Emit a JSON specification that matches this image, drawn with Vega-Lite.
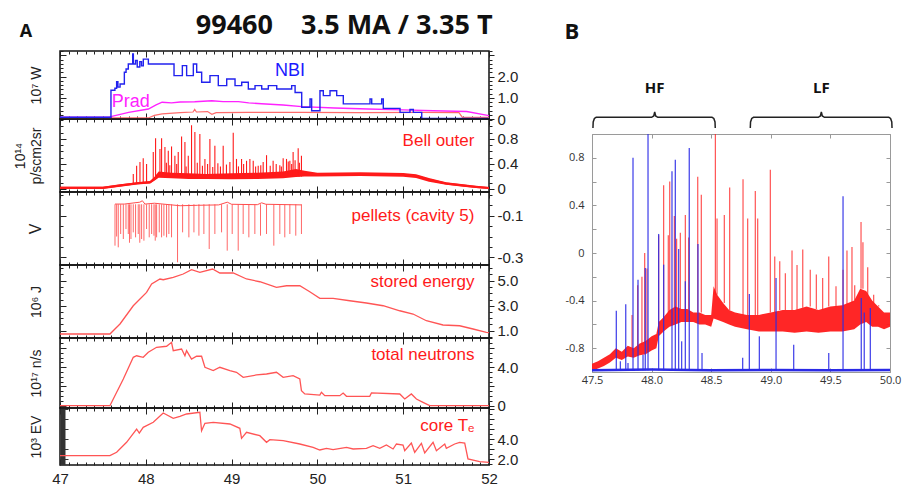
{
 "$schema": "https://vega.github.io/schema/vega-lite/v6.json",
 "background": "white",
 "padding": {"left": 12, "top": 12, "right": 4, "bottom": 2},
 "config": {"font": "Liberation Sans", "view": {"stroke": "#111", "strokeWidth": 1.5}, "axis": {"labelOverlap": false, "labelFlush": false, "labelBound": false, "domain": false, "grid": false}},
 "datasets": {
  "nbi": [{"t":47.0,"v":0.08},{"t":47.594,"v":1.35},{"t":47.64,"v":1.45},{"t":47.66,"v":1.75},{"t":47.675,"v":1.5},{"t":47.70,"v":1.65},{"t":47.75,"v":2.2},{"t":47.77,"v":2.35},{"t":47.796,"v":2.59},{"t":47.847,"v":3.06},{"t":47.855,"v":2.59},{"t":47.88,"v":2.75},{"t":47.90,"v":2.45},{"t":47.93,"v":2.7},{"t":47.95,"v":2.5},{"t":47.971,"v":2.82},{"t":48.03,"v":2.59},{"t":48.329,"v":2.04},{"t":48.426,"v":2.51},{"t":48.476,"v":2.04},{"t":48.554,"v":2.59},{"t":48.593,"v":2.2},{"t":48.651,"v":1.73},{"t":48.748,"v":2.04},{"t":48.845,"v":1.57},{"t":48.943,"v":1.88},{"t":49.04,"v":1.57},{"t":49.118,"v":1.73},{"t":49.195,"v":1.41},{"t":49.273,"v":1.57},{"t":49.351,"v":1.41},{"t":49.428,"v":1.57},{"t":49.526,"v":1.41},{"t":49.70,"v":1.57},{"t":49.74,"v":1.25},{"t":49.817,"v":0.55},{"t":49.914,"v":0.94},{"t":49.933,"v":0.39},{"t":50.03,"v":1.33},{"t":50.069,"v":1.1},{"t":50.147,"v":1.33},{"t":50.225,"v":1.1},{"t":50.302,"v":0.71},{"t":50.613,"v":0.94},{"t":50.633,"v":0.71},{"t":50.749,"v":0.94},{"t":50.768,"v":0.5},{"t":50.963,"v":0.31},{"t":51.079,"v":0.45},{"t":51.118,"v":0.31},{"t":51.216,"v":0.03},{"t":52.0,"v":0.03}],
  "prad": [{"t":47.0,"v":0.08},{"t":47.58,"v":0.1},{"t":47.8,"v":0.31},{"t":48.03,"v":0.47},{"t":48.12,"v":0.66},{"t":48.19,"v":0.79},{"t":48.3,"v":0.76},{"t":48.4,"v":0.8},{"t":48.57,"v":0.81},{"t":48.77,"v":0.86},{"t":48.9,"v":0.82},{"t":49.08,"v":0.82},{"t":49.2,"v":0.76},{"t":49.35,"v":0.72},{"t":49.6,"v":0.66},{"t":49.82,"v":0.58},{"t":50.2,"v":0.52},{"t":50.59,"v":0.47},{"t":51.0,"v":0.43},{"t":51.35,"v":0.39},{"t":51.74,"v":0.35},{"t":52.0,"v":0.16}],
  "pr2": [{"t":47.0,"v":0.05},{"t":48.03,"v":0.05},{"t":48.1,"v":0.17},{"t":48.19,"v":0.24},{"t":48.4,"v":0.3},{"t":48.55,"v":0.33},{"t":48.57,"v":0.45},{"t":48.59,"v":0.33},{"t":48.72,"v":0.35},{"t":48.77,"v":0.22},{"t":48.82,"v":0.3},{"t":49.2,"v":0.31},{"t":49.8,"v":0.31},{"t":50.5,"v":0.3},{"t":51.2,"v":0.31},{"t":51.65,"v":0.3},{"t":51.69,"v":0.08},{"t":52.0,"v":0.08}],
  "bell": [{"t":47.0,"v":0.02},{"t":47.5,"v":0.02},{"t":47.7,"v":0.055},{"t":47.9,"v":0.09},{"t":48.05,"v":0.105},{"t":48.1,"v":0.16},{"t":48.15,"v":0.23},{"t":48.3,"v":0.215},{"t":48.5,"v":0.205},{"t":48.7,"v":0.2},{"t":49.0,"v":0.2},{"t":49.3,"v":0.21},{"t":49.6,"v":0.225},{"t":49.75,"v":0.255},{"t":49.85,"v":0.245},{"t":50.0,"v":0.23},{"t":50.5,"v":0.235},{"t":51.0,"v":0.225},{"t":51.15,"v":0.205},{"t":51.3,"v":0.145},{"t":51.5,"v":0.085},{"t":51.7,"v":0.055},{"t":51.85,"v":0.03},{"t":52.0,"v":0.015}],
  "bellband": [{"t":47.0,"lo":0.0,"hi":0.035},{"t":47.5,"lo":0.0,"hi":0.035},{"t":47.7,"lo":0.035,"hi":0.075},{"t":47.9,"lo":0.07,"hi":0.105},{"t":48.05,"lo":0.085,"hi":0.125},{"t":48.1,"lo":0.13,"hi":0.19},{"t":48.15,"lo":0.18,"hi":0.28},{"t":48.3,"lo":0.17,"hi":0.26},{"t":48.5,"lo":0.16,"hi":0.25},{"t":48.7,"lo":0.16,"hi":0.24},{"t":49.0,"lo":0.155,"hi":0.25},{"t":49.3,"lo":0.16,"hi":0.26},{"t":49.6,"lo":0.17,"hi":0.28},{"t":49.75,"lo":0.19,"hi":0.32},{"t":49.85,"lo":0.2,"hi":0.29},{"t":50.0,"lo":0.2,"hi":0.26},{"t":50.5,"lo":0.205,"hi":0.265},{"t":51.0,"lo":0.195,"hi":0.255},{"t":51.15,"lo":0.175,"hi":0.235},{"t":51.3,"lo":0.115,"hi":0.175},{"t":51.5,"lo":0.065,"hi":0.105},{"t":51.7,"lo":0.035,"hi":0.075},{"t":51.85,"lo":0.015,"hi":0.05},{"t":52.0,"lo":0.0,"hi":0.03}],
  "bellspk": [{"t":47.854,"b":0.08,"p":0.24},{"t":47.893,"b":0.08,"p":0.37},{"t":47.932,"b":0.09,"p":0.43},{"t":47.97,"b":0.09,"p":0.49},{"t":48.009,"b":0.1,"p":0.4},{"t":48.087,"b":0.15,"p":0.59},{"t":48.114,"b":0.18,"p":0.81},{"t":48.165,"b":0.2,"p":0.64},{"t":48.184,"b":0.2,"p":0.81},{"t":48.223,"b":0.2,"p":0.67},{"t":48.262,"b":0.2,"p":0.61},{"t":48.3,"b":0.2,"p":0.68},{"t":48.339,"b":0.2,"p":0.53},{"t":48.378,"b":0.2,"p":0.59},{"t":48.417,"b":0.2,"p":0.84},{"t":48.456,"b":0.2,"p":0.75},{"t":48.495,"b":0.2,"p":0.53},{"t":48.533,"b":0.2,"p":1.02},{"t":48.572,"b":0.2,"p":0.91},{"t":48.63,"b":0.2,"p":0.88},{"t":48.689,"b":0.2,"p":0.48},{"t":48.747,"b":0.2,"p":0.8},{"t":48.805,"b":0.2,"p":0.69},{"t":48.902,"b":0.2,"p":0.69},{"t":48.98,"b":0.2,"p":0.43},{"t":49.019,"b":0.2,"p":0.9},{"t":49.057,"b":0.2,"p":0.48},{"t":49.116,"b":0.2,"p":0.48},{"t":49.174,"b":0.2,"p":0.45},{"t":49.213,"b":0.2,"p":0.48},{"t":49.252,"b":0.2,"p":0.45},{"t":49.31,"b":0.2,"p":0.37},{"t":49.368,"b":0.2,"p":0.43},{"t":49.407,"b":0.2,"p":0.54},{"t":49.484,"b":0.2,"p":0.45},{"t":49.562,"b":0.2,"p":0.38},{"t":49.601,"b":0.2,"p":0.49},{"t":49.64,"b":0.2,"p":0.48},{"t":49.679,"b":0.2,"p":0.45},{"t":49.717,"b":0.2,"p":0.59},{"t":49.776,"b":0.2,"p":0.65},{"t":49.814,"b":0.2,"p":0.53},{"t":48.24,"b":0.2,"p":0.42},{"t":48.28,"b":0.2,"p":0.38},{"t":48.36,"b":0.2,"p":0.4},{"t":48.47,"b":0.2,"p":0.36},{"t":48.6,"b":0.2,"p":0.42},{"t":48.66,"b":0.2,"p":0.37},{"t":48.72,"b":0.2,"p":0.4},{"t":48.78,"b":0.2,"p":0.35},{"t":48.84,"b":0.2,"p":0.41},{"t":48.87,"b":0.2,"p":0.36},{"t":48.94,"b":0.2,"p":0.39},{"t":49.08,"b":0.2,"p":0.36},{"t":49.14,"b":0.2,"p":0.4},{"t":49.28,"b":0.2,"p":0.36},{"t":49.34,"b":0.2,"p":0.38},{"t":49.45,"b":0.2,"p":0.37},{"t":49.52,"b":0.2,"p":0.4},{"t":49.58,"b":0.2,"p":0.36},{"t":49.66,"b":0.2,"p":0.44},{"t":49.7,"b":0.2,"p":0.4},{"t":49.74,"b":0.2,"p":0.46},{"t":49.79,"b":0.2,"p":0.42}],
  "pelbase": [{"t":47.641,"v":-0.044},{"t":47.75,"v":-0.044},{"t":47.93,"v":-0.035},{"t":47.96,"v":-0.028},{"t":47.99,"v":-0.044},{"t":48.1,"v":-0.04},{"t":48.2,"v":-0.044},{"t":48.3,"v":-0.048},{"t":48.4,"v":-0.052},{"t":48.6,"v":-0.05},{"t":48.85,"v":-0.048},{"t":48.95,"v":-0.035},{"t":49.0,"v":-0.045},{"t":49.3,"v":-0.047},{"t":49.35,"v":-0.038},{"t":49.4,"v":-0.045},{"t":49.814,"v":-0.048}],
  "pelspk": [{"t":47.641,"b":-0.244},{"t":47.66,"b":-0.2},{"t":47.679,"b":-0.252},{"t":47.707,"b":-0.188},{"t":47.738,"b":-0.212},{"t":47.769,"b":-0.164},{"t":47.796,"b":-0.188},{"t":47.81,"b":-0.23},{"t":47.827,"b":-0.212},{"t":47.854,"b":-0.18},{"t":47.881,"b":-0.204},{"t":47.912,"b":-0.188},{"t":47.93,"b":-0.23},{"t":47.951,"b":-0.212},{"t":47.978,"b":-0.22},{"t":48.009,"b":-0.164},{"t":48.04,"b":-0.204},{"t":48.068,"b":-0.188},{"t":48.095,"b":-0.196},{"t":48.11,"b":-0.22},{"t":48.126,"b":-0.204},{"t":48.157,"b":-0.18},{"t":48.184,"b":-0.204},{"t":48.211,"b":-0.196},{"t":48.242,"b":-0.204},{"t":48.269,"b":-0.188},{"t":48.3,"b":-0.204},{"t":48.37,"b":-0.324},{"t":48.429,"b":-0.18},{"t":48.502,"b":-0.204},{"t":48.561,"b":-0.18},{"t":48.619,"b":-0.196},{"t":48.677,"b":-0.188},{"t":48.739,"b":-0.26},{"t":48.805,"b":-0.188},{"t":48.883,"b":-0.18},{"t":48.949,"b":-0.268},{"t":49.007,"b":-0.188},{"t":49.077,"b":-0.268},{"t":49.135,"b":-0.188},{"t":49.201,"b":-0.204},{"t":49.271,"b":-0.188},{"t":49.337,"b":-0.196},{"t":49.407,"b":-0.188},{"t":49.492,"b":-0.244},{"t":49.562,"b":-0.188},{"t":49.62,"b":-0.204},{"t":49.679,"b":-0.188},{"t":49.748,"b":-0.196},{"t":49.814,"b":-0.188}],
  "energy": [{"t":47.0,"v":0.74},{"t":47.582,"v":0.74},{"t":47.699,"v":1.54},{"t":47.854,"v":3.0},{"t":47.932,"v":3.54},{"t":48.009,"v":4.07},{"t":48.068,"v":4.74},{"t":48.165,"v":5.14},{"t":48.203,"v":5.08},{"t":48.32,"v":5.27},{"t":48.436,"v":5.54},{"t":48.533,"v":5.88},{"t":48.63,"v":5.67},{"t":48.778,"v":5.94},{"t":48.863,"v":5.62},{"t":49.019,"v":5.62},{"t":49.174,"v":5.14},{"t":49.329,"v":4.92},{"t":49.523,"v":4.47},{"t":49.64,"v":4.6},{"t":49.795,"v":4.6},{"t":49.911,"v":4.12},{"t":50.028,"v":3.59},{"t":50.183,"v":3.59},{"t":50.377,"v":3.4},{"t":50.571,"v":3.22},{"t":50.766,"v":3.0},{"t":50.96,"v":2.6},{"t":51.115,"v":2.34},{"t":51.27,"v":1.8},{"t":51.464,"v":1.46},{"t":51.658,"v":1.4},{"t":51.814,"v":1.14},{"t":51.969,"v":0.87},{"t":52.0,"v":0.85}],
  "neut": [{"t":47.0,"v":0.0},{"t":47.582,"v":0.0},{"t":47.621,"v":0.7},{"t":47.738,"v":2.78},{"t":47.854,"v":5.04},{"t":47.893,"v":5.2},{"t":47.97,"v":5.04},{"t":48.029,"v":5.56},{"t":48.126,"v":6.08},{"t":48.242,"v":6.19},{"t":48.3,"v":6.6},{"t":48.32,"v":5.73},{"t":48.417,"v":5.9},{"t":48.456,"v":5.2},{"t":48.475,"v":5.73},{"t":48.533,"v":4.86},{"t":48.592,"v":5.15},{"t":48.65,"v":5.15},{"t":48.689,"v":4.0},{"t":48.786,"v":3.65},{"t":48.863,"v":4.0},{"t":48.98,"v":3.65},{"t":49.057,"v":3.48},{"t":49.135,"v":2.96},{"t":49.29,"v":3.2},{"t":49.407,"v":3.3},{"t":49.523,"v":3.48},{"t":49.601,"v":2.96},{"t":49.717,"v":3.13},{"t":49.795,"v":2.78},{"t":49.814,"v":1.57},{"t":49.853,"v":1.22},{"t":50.028,"v":1.11},{"t":50.047,"v":1.4},{"t":50.086,"v":1.04},{"t":50.261,"v":1.04},{"t":50.3,"v":1.32},{"t":50.339,"v":0.98},{"t":50.61,"v":0.98},{"t":50.63,"v":1.33},{"t":50.96,"v":1.22},{"t":51.018,"v":0.7},{"t":51.095,"v":1.22},{"t":51.154,"v":0.7},{"t":51.231,"v":0.35},{"t":51.309,"v":0.0},{"t":52.0,"v":0.0}],
  "te": [{"t":47.0,"v":2.33},{"t":47.582,"v":2.33},{"t":47.66,"v":2.67},{"t":47.776,"v":3.67},{"t":47.893,"v":5.0},{"t":47.924,"v":4.6},{"t":47.97,"v":5.17},{"t":48.087,"v":5.67},{"t":48.203,"v":6.6},{"t":48.32,"v":6.07},{"t":48.398,"v":6.27},{"t":48.475,"v":6.5},{"t":48.63,"v":6.67},{"t":48.65,"v":4.83},{"t":48.689,"v":5.57},{"t":48.786,"v":5.67},{"t":48.98,"v":5.5},{"t":49.096,"v":5.07},{"t":49.116,"v":4.07},{"t":49.174,"v":4.67},{"t":49.329,"v":4.33},{"t":49.407,"v":3.67},{"t":49.446,"v":3.93},{"t":49.601,"v":3.83},{"t":49.795,"v":3.5},{"t":49.95,"v":3.17},{"t":50.028,"v":2.9},{"t":50.106,"v":3.07},{"t":50.183,"v":2.93},{"t":50.339,"v":3.17},{"t":50.416,"v":3.0},{"t":50.571,"v":3.07},{"t":50.649,"v":3.33},{"t":50.727,"v":3.07},{"t":50.804,"v":3.4},{"t":50.882,"v":3.0},{"t":50.921,"v":3.5},{"t":50.998,"v":3.4},{"t":51.018,"v":2.83},{"t":51.095,"v":3.6},{"t":51.134,"v":2.67},{"t":51.212,"v":3.57},{"t":51.251,"v":2.6},{"t":51.348,"v":3.67},{"t":51.387,"v":2.83},{"t":51.484,"v":3.5},{"t":51.503,"v":3.07},{"t":51.6,"v":3.5},{"t":51.658,"v":3.67},{"t":51.717,"v":3.6},{"t":51.755,"v":2.0},{"t":51.891,"v":1.73},{"t":52.0,"v":1.67}],
  "bband": [{"t":47.5,"lo":-0.99,"hi":-0.93},{"t":47.55,"lo":-0.97,"hi":-0.91},{"t":47.6,"lo":-0.95,"hi":-0.88},{"t":47.65,"lo":-0.92,"hi":-0.85},{"t":47.7,"lo":-0.88,"hi":-0.8},{"t":47.75,"lo":-0.9,"hi":-0.83},{"t":47.8,"lo":-0.87,"hi":-0.78},{"t":47.85,"lo":-0.88,"hi":-0.8},{"t":47.9,"lo":-0.86,"hi":-0.76},{"t":47.95,"lo":-0.85,"hi":-0.74},{"t":48.0,"lo":-0.82,"hi":-0.7},{"t":48.04,"lo":-0.8,"hi":-0.68},{"t":48.06,"lo":-0.7,"hi":-0.58},{"t":48.1,"lo":-0.66,"hi":-0.54},{"t":48.15,"lo":-0.62,"hi":-0.48},{"t":48.2,"lo":-0.6,"hi":-0.45},{"t":48.25,"lo":-0.58,"hi":-0.47},{"t":48.3,"lo":-0.58,"hi":-0.47},{"t":48.35,"lo":-0.58,"hi":-0.5},{"t":48.4,"lo":-0.6,"hi":-0.5},{"t":48.45,"lo":-0.6,"hi":-0.52},{"t":48.5,"lo":-0.62,"hi":-0.52},{"t":48.52,"lo":-0.55,"hi":-0.28},{"t":48.55,"lo":-0.56,"hi":-0.35},{"t":48.6,"lo":-0.58,"hi":-0.42},{"t":48.65,"lo":-0.6,"hi":-0.48},{"t":48.7,"lo":-0.62,"hi":-0.5},{"t":48.8,"lo":-0.64,"hi":-0.52},{"t":48.9,"lo":-0.66,"hi":-0.52},{"t":49.0,"lo":-0.66,"hi":-0.5},{"t":49.1,"lo":-0.66,"hi":-0.48},{"t":49.2,"lo":-0.67,"hi":-0.48},{"t":49.3,"lo":-0.66,"hi":-0.45},{"t":49.4,"lo":-0.67,"hi":-0.48},{"t":49.5,"lo":-0.66,"hi":-0.45},{"t":49.6,"lo":-0.66,"hi":-0.44},{"t":49.7,"lo":-0.64,"hi":-0.4},{"t":49.75,"lo":-0.6,"hi":-0.3},{"t":49.8,"lo":-0.58,"hi":-0.32},{"t":49.85,"lo":-0.62,"hi":-0.4},{"t":49.9,"lo":-0.62,"hi":-0.45},{"t":49.95,"lo":-0.64,"hi":-0.5},{"t":50.0,"lo":-0.62,"hi":-0.5}],
  "bred": [{"t":47.836,"b":-0.8,"p":-0.52},{"t":47.883,"b":-0.78,"p":-0.27},{"t":47.919,"b":-0.77,"p":-0.2},{"t":47.942,"b":-0.76,"p":0.0},{"t":47.961,"b":-0.75,"p":-0.13},{"t":48.059,"b":-0.6,"p":0.15},{"t":48.101,"b":-0.55,"p":0.57},{"t":48.14,"b":-0.5,"p":0.15},{"t":48.152,"b":-0.5,"p":0.6},{"t":48.191,"b":-0.47,"p":0.31},{"t":48.21,"b":-0.47,"p":0.12},{"t":48.241,"b":-0.47,"p":0.17},{"t":48.283,"b":-0.47,"p":0.32},{"t":48.311,"b":-0.48,"p":0.13},{"t":48.387,"b":-0.5,"p":0.64},{"t":48.417,"b":-0.5,"p":0.49},{"t":48.535,"b":-0.35,"p":1.0},{"t":48.549,"b":-0.35,"p":0.29},{"t":48.61,"b":-0.42,"p":0.32},{"t":48.655,"b":-0.48,"p":0.55},{"t":48.767,"b":-0.52,"p":0.62},{"t":48.806,"b":-0.52,"p":0.29},{"t":48.87,"b":-0.52,"p":0.52},{"t":48.89,"b":-0.52,"p":0.29},{"t":48.996,"b":-0.5,"p":0.7},{"t":49.033,"b":-0.5,"p":-0.03},{"t":49.075,"b":-0.48,"p":-0.07},{"t":49.122,"b":-0.48,"p":-0.17},{"t":49.178,"b":-0.48,"p":0.02},{"t":49.22,"b":-0.48,"p":-0.1},{"t":49.268,"b":-0.46,"p":0.03},{"t":49.331,"b":-0.45,"p":-0.14},{"t":49.382,"b":-0.47,"p":-0.18},{"t":49.435,"b":-0.48,"p":-0.21},{"t":49.486,"b":-0.45,"p":-0.03},{"t":49.547,"b":-0.45,"p":-0.28},{"t":49.606,"b":-0.44,"p":-0.14},{"t":49.639,"b":-0.43,"p":0.02},{"t":49.681,"b":-0.42,"p":0.05},{"t":49.704,"b":-0.4,"p":-0.27},{"t":49.757,"b":-0.3,"p":0.26},{"t":49.773,"b":-0.3,"p":0.09},{"t":49.813,"b":-0.35,"p":-0.12},{"t":49.863,"b":-0.42,"p":-0.35},{"t":49.905,"b":-0.45,"p":-0.44}],
  "bblue": [{"t":47.704,"p":-0.485},{"t":47.738,"p":-0.91},{"t":47.783,"p":-0.43},{"t":47.802,"p":-0.925},{"t":47.844,"p":0.8},{"t":47.886,"p":-0.224},{"t":47.928,"p":-0.854},{"t":47.947,"p":-0.126},{"t":47.97,"p":1.0},{"t":48.059,"p":0.16},{"t":48.101,"p":-0.098},{"t":48.171,"p":0.686},{"t":48.199,"p":0.784},{"t":48.227,"p":0.034},{"t":48.252,"p":-0.742},{"t":48.283,"p":-0.238},{"t":48.316,"p":0.882},{"t":48.389,"p":0.076},{"t":48.423,"p":-0.84},{"t":48.764,"p":-0.88},{"t":48.82,"p":-0.345},{"t":48.904,"p":-0.7},{"t":49.044,"p":-0.21},{"t":49.192,"p":-0.77},{"t":49.486,"p":-0.84},{"t":49.606,"p":0.476},{"t":49.759,"p":-0.378},{"t":49.784,"p":-0.5},{"t":49.835,"p":-0.462}],
  "bbase": [{"t":47.5,"v":-0.985},{"t":48.0,"v":-0.98},{"t":48.5,"v":-0.985},{"t":49.0,"v":-0.983},{"t":49.5,"v":-0.985},{"t":50.0,"v":-0.984}],
  "brackets": [{"g":"HF","t":47.508,"y":0.072},{"g":"HF","t":47.51,"y":0.145},{"g":"HF","t":47.52,"y":0.188},{"g":"HF","t":47.535,"y":0.201},{"g":"HF","t":48.0,"y":0.201},{"g":"HF","t":48.018,"y":0.217},{"g":"HF","t":48.026,"y":0.265},{"g":"HF","t":48.034,"y":0.217},{"g":"HF","t":48.052,"y":0.201},{"g":"HF","t":48.507,"y":0.201},{"g":"HF","t":48.522,"y":0.188},{"g":"HF","t":48.532,"y":0.145},{"g":"HF","t":48.534,"y":0.072},{"g":"LF","t":48.828,"y":0.072},{"g":"LF","t":48.83,"y":0.145},{"g":"LF","t":48.84,"y":0.188},{"g":"LF","t":48.855,"y":0.201},{"g":"LF","t":49.398,"y":0.201},{"g":"LF","t":49.416,"y":0.217},{"g":"LF","t":49.424,"y":0.265},{"g":"LF","t":49.432,"y":0.217},{"g":"LF","t":49.45,"y":0.201},{"g":"LF","t":49.99,"y":0.201},{"g":"LF","t":50.005,"y":0.188},{"g":"LF","t":50.015,"y":0.145},{"g":"LF","t":50.017,"y":0.072}]
 },
 "spacing": 40,
 "hconcat": [
  {
   "title": {"text": "99460\u00a0\u00a0\u00a0\u00a03.5 MA / 3.35 T", "font": "Open Sans", "fontSize": 27, "fontWeight": "bold", "color": "#111", "anchor": "middle", "frame": "bounds", "dx": 76, "offset": -18},
   "spacing": 0,
   "bounds": "flush",
   "vconcat": [
    {
     "width": 429, "height": 68,
     "layer": [
      {"data": {"name": "prad"}, "mark": {"type": "line", "color": "#ff22ff", "strokeWidth": 1.4, "clip": true},
       "encoding": {"x": {"field": "t", "type": "quantitative", "scale": {"domain": [47, 52], "nice": false, "zero": false},
          "axis": {"orient": "bottom", "values": [47,47.1,47.2,47.3,47.4,47.5,47.6,47.7,47.8,47.9,48,48.1,48.2,48.3,48.4,48.5,48.6,48.7,48.8,48.9,49,49.1,49.2,49.3,49.4,49.5,49.6,49.7,49.8,49.9,50,50.1,50.2,50.3,50.4,50.5,50.6,50.7,50.8,50.9,51,51.1,51.2,51.3,51.4,51.5,51.6,51.7,51.8,51.9,52], "labels": false, "title": null, "tickColor": "#222", "tickSize": {"condition": {"test": "datum.value % 1 === 0", "value": -6}, "value": -3}}},
        "y": {"field": "v", "type": "quantitative", "scale": {"domain": [0, 3.2], "nice": false, "zero": false},
          "axis": {"orient": "left", "values": [0,0.2,0.4,0.6,0.8,1,1.2,1.4,1.6,1.8,2,2.2,2.4,2.6,2.8,3,3.2], "labels": false, "tickColor": "#222", "tickSize": {"condition": {"test": "datum.value % 1 === 0", "value": -6}, "value": -3}, "title": "10⁷ W", "titleFont": "Liberation Sans", "titleFontSize": 14, "titleFontWeight": "normal", "titleColor": "#222", "titlePadding": 16}}}},
      {"data": {"name": "pr2"}, "mark": {"type": "line", "color": "#ff6b6b", "strokeWidth": 1.2, "clip": true},
       "encoding": {"x": {"field": "t", "type": "quantitative", "scale": {"domain": [47, 52], "nice": false, "zero": false},
          "axis": {"orient": "top", "values": [47,47.1,47.2,47.3,47.4,47.5,47.6,47.7,47.8,47.9,48,48.1,48.2,48.3,48.4,48.5,48.6,48.7,48.8,48.9,49,49.1,49.2,49.3,49.4,49.5,49.6,49.7,49.8,49.9,50,50.1,50.2,50.3,50.4,50.5,50.6,50.7,50.8,50.9,51,51.1,51.2,51.3,51.4,51.5,51.6,51.7,51.8,51.9,52], "labels": false, "title": null, "tickColor": "#222", "tickSize": {"condition": {"test": "datum.value % 1 === 0", "value": -6}, "value": -3}}},
        "y": {"field": "v", "type": "quantitative", "scale": {"domain": [0, 3.2], "nice": false, "zero": false},
          "axis": {"orient": "right", "values": [0,0.2,0.4,0.6,0.8,1,1.2,1.4,1.6,1.8,2,2.2,2.4,2.6,2.8,3,3.2], "labelExpr": "datum.value === 0 ? '0' : datum.value === 1 ? '1.0' : datum.value === 2 ? '2.0' : ''", "labelFontSize": 15, "labelColor": "#222", "labelPadding": 3, "tickColor": "#222", "tickSize": {"condition": {"test": "datum.value % 1 === 0", "value": 5}, "value": 3}, "title": null}}}},
      {"data": {"name": "nbi"}, "mark": {"type": "line", "color": "#2222ee", "strokeWidth": 1.4, "interpolate": "step-after", "clip": true},
       "encoding": {"x": {"field": "t", "type": "quantitative", "scale": {"domain": [47, 52], "nice": false, "zero": false}, "axis": null},
        "y": {"field": "v", "type": "quantitative", "scale": {"domain": [0, 3.2], "nice": false, "zero": false}, "axis": null}}},
      {"data": {"values": [{"label": "NBI"}]}, "mark": {"type": "text", "color": "#1a1aff", "fontSize": 18, "align": "center", "baseline": "middle"},
       "encoding": {"x": {"datum": 49.68, "type": "quantitative", "scale": {"domain": [47, 52], "nice": false, "zero": false}, "axis": null}, "y": {"datum": 2.24, "type": "quantitative", "scale": {"domain": [0, 3.2], "nice": false, "zero": false}, "axis": null}, "text": {"field": "label"}}},
      {"data": {"values": [{"label": "Prad"}]}, "mark": {"type": "text", "color": "#ff22ff", "fontSize": 18, "align": "left", "baseline": "middle"},
       "encoding": {"x": {"datum": 47.603, "type": "quantitative", "scale": {"domain": [47, 52], "nice": false, "zero": false}, "axis": null}, "y": {"datum": 0.82, "type": "quantitative", "scale": {"domain": [0, 3.2], "nice": false, "zero": false}, "axis": null}, "text": {"field": "label"}}},
      {"data": {"values": [{"label": "A"}]}, "mark": {"type": "text", "color": "#111", "font": "Open Sans", "fontWeight": "bold", "fontSize": 18, "align": "center", "baseline": "middle"},
       "encoding": {"x": {"datum": 46.604, "type": "quantitative", "scale": {"domain": [47, 52], "nice": false, "zero": false}, "axis": null}, "y": {"datum": 4.1, "type": "quantitative", "scale": {"domain": [0, 3.2], "nice": false, "zero": false}, "axis": null}, "text": {"field": "label"}}}
     ],
     "resolve": {"axis": {"x": "independent", "y": "independent"}}
    },
    {
     "width": 429, "height": 73,
     "layer": [
      {"data": {"name": "bellband"}, "mark": {"type": "area", "color": "#ff1a1a", "clip": true},
       "encoding": {"x": {"field": "t", "type": "quantitative", "scale": {"domain": [47, 52], "nice": false, "zero": false},
          "axis": {"orient": "bottom", "values": [47,47.1,47.2,47.3,47.4,47.5,47.6,47.7,47.8,47.9,48,48.1,48.2,48.3,48.4,48.5,48.6,48.7,48.8,48.9,49,49.1,49.2,49.3,49.4,49.5,49.6,49.7,49.8,49.9,50,50.1,50.2,50.3,50.4,50.5,50.6,50.7,50.8,50.9,51,51.1,51.2,51.3,51.4,51.5,51.6,51.7,51.8,51.9,52], "labels": false, "title": null, "tickColor": "#222", "tickSize": {"condition": {"test": "datum.value % 1 === 0", "value": -6}, "value": -3}}},
        "y": {"field": "lo", "type": "quantitative", "scale": {"domain": [-0.05, 1.12], "nice": false, "zero": false},
          "axis": {"orient": "left", "values": [0,0.1,0.2,0.3,0.4,0.5,0.6,0.7,0.8,0.9,1,1.1], "labels": false, "tickColor": "#222", "tickSize": {"condition": {"test": "datum.value === 0 || datum.value === 0.4 || datum.value === 0.8", "value": -6}, "value": -3}, "title": ["10¹⁴", "p/scm2sr"], "titleFont": "Liberation Sans", "titleFontSize": 14, "titleFontWeight": "normal", "titleColor": "#222", "titlePadding": 16}},
        "y2": {"field": "hi"}}},
      {"data": {"name": "bell"}, "mark": {"type": "line", "color": "#ff1a1a", "strokeWidth": 2, "clip": true},
       "encoding": {"x": {"field": "t", "type": "quantitative", "scale": {"domain": [47, 52], "nice": false, "zero": false}, "axis": null},
        "y": {"field": "v", "type": "quantitative", "scale": {"domain": [-0.05, 1.12], "nice": false, "zero": false}, "axis": null}}},
      {"data": {"name": "bellspk"}, "mark": {"type": "rule", "color": "#ff1a1a", "strokeWidth": 1.1, "clip": true},
       "encoding": {"x": {"field": "t", "type": "quantitative", "scale": {"domain": [47, 52], "nice": false, "zero": false},
          "axis": {"orient": "top", "values": [47,47.1,47.2,47.3,47.4,47.5,47.6,47.7,47.8,47.9,48,48.1,48.2,48.3,48.4,48.5,48.6,48.7,48.8,48.9,49,49.1,49.2,49.3,49.4,49.5,49.6,49.7,49.8,49.9,50,50.1,50.2,50.3,50.4,50.5,50.6,50.7,50.8,50.9,51,51.1,51.2,51.3,51.4,51.5,51.6,51.7,51.8,51.9,52], "labels": false, "title": null, "tickColor": "#222", "tickSize": {"condition": {"test": "datum.value % 1 === 0", "value": -6}, "value": -3}}},
        "y": {"field": "p", "type": "quantitative", "scale": {"domain": [-0.05, 1.12], "nice": false, "zero": false},
          "axis": {"orient": "right", "values": [0,0.1,0.2,0.3,0.4,0.5,0.6,0.7,0.8,0.9,1,1.1], "labelExpr": "datum.value === 0 ? '0' : datum.value === 0.4 ? '0.4' : datum.value === 0.8 ? '0.8' : ''", "labelFontSize": 15, "labelColor": "#222", "labelPadding": 3, "tickColor": "#222", "tickSize": {"condition": {"test": "datum.value === 0 || datum.value === 0.4 || datum.value === 0.8", "value": 5}, "value": 3}, "title": null}},
        "y2": {"field": "b"}}},
      {"data": {"values": [{"label": "Bell outer"}]}, "mark": {"type": "text", "color": "#ff1a1a", "fontSize": 17, "align": "right", "baseline": "middle"},
       "encoding": {"x": {"datum": 51.83, "type": "quantitative", "scale": {"domain": [47, 52], "nice": false, "zero": false}, "axis": null}, "y": {"datum": 0.77, "type": "quantitative", "scale": {"domain": [-0.05, 1.12], "nice": false, "zero": false}, "axis": null}, "text": {"field": "label"}}}
     ],
     "resolve": {"axis": {"x": "independent", "y": "independent"}}
    },
    {
     "width": 429, "height": 73,
     "layer": [
      {"data": {"name": "pelbase"}, "mark": {"type": "line", "color": "#ff4d4d", "strokeWidth": 1, "clip": true},
       "encoding": {"x": {"field": "t", "type": "quantitative", "scale": {"domain": [47, 52], "nice": false, "zero": false},
          "axis": {"orient": "bottom", "values": [47,47.1,47.2,47.3,47.4,47.5,47.6,47.7,47.8,47.9,48,48.1,48.2,48.3,48.4,48.5,48.6,48.7,48.8,48.9,49,49.1,49.2,49.3,49.4,49.5,49.6,49.7,49.8,49.9,50,50.1,50.2,50.3,50.4,50.5,50.6,50.7,50.8,50.9,51,51.1,51.2,51.3,51.4,51.5,51.6,51.7,51.8,51.9,52], "labels": false, "title": null, "tickColor": "#222", "tickSize": {"condition": {"test": "datum.value % 1 === 0", "value": -6}, "value": -3}}},
        "y": {"field": "v", "type": "quantitative", "scale": {"domain": [-0.337, 0.014], "nice": false, "zero": false},
          "axis": {"orient": "left", "values": [0,-0.05,-0.1,-0.15,-0.2,-0.25,-0.3], "labels": false, "tickColor": "#222", "tickSize": {"condition": {"test": "datum.value === -0.1 || datum.value === -0.3", "value": -6}, "value": -3}, "title": "V", "titleFont": "Liberation Sans", "titleFontSize": 16, "titleFontWeight": "normal", "titleColor": "#222", "titlePadding": 16}}}},
      {"data": {"name": "pelspk"}, "mark": {"type": "rule", "color": "#ff4d4d", "strokeWidth": 1, "opacity": 0.85, "clip": true},
       "encoding": {"x": {"field": "t", "type": "quantitative", "scale": {"domain": [47, 52], "nice": false, "zero": false},
          "axis": {"orient": "top", "values": [47,47.1,47.2,47.3,47.4,47.5,47.6,47.7,47.8,47.9,48,48.1,48.2,48.3,48.4,48.5,48.6,48.7,48.8,48.9,49,49.1,49.2,49.3,49.4,49.5,49.6,49.7,49.8,49.9,50,50.1,50.2,50.3,50.4,50.5,50.6,50.7,50.8,50.9,51,51.1,51.2,51.3,51.4,51.5,51.6,51.7,51.8,51.9,52], "labels": false, "title": null, "tickColor": "#222", "tickSize": {"condition": {"test": "datum.value % 1 === 0", "value": -6}, "value": -3}}},
        "y": {"field": "b", "type": "quantitative", "scale": {"domain": [-0.337, 0.014], "nice": false, "zero": false},
          "axis": {"orient": "right", "values": [0,-0.05,-0.1,-0.15,-0.2,-0.25,-0.3], "labelExpr": "datum.value === -0.1 ? '-0.1' : datum.value === -0.3 ? '-0.3' : ''", "labelFontSize": 15, "labelColor": "#222", "labelPadding": 3, "tickColor": "#222", "tickSize": {"condition": {"test": "datum.value === -0.1 || datum.value === -0.3", "value": 5}, "value": 3}, "title": null}},
        "y2": {"datum": -0.045}}},
      {"data": {"values": [{"label": "pellets (cavity 5)"}]}, "mark": {"type": "text", "color": "#ff1a1a", "fontSize": 17, "align": "right", "baseline": "middle"},
       "encoding": {"x": {"datum": 51.83, "type": "quantitative", "scale": {"domain": [47, 52], "nice": false, "zero": false}, "axis": null}, "y": {"datum": -0.1, "type": "quantitative", "scale": {"domain": [-0.337, 0.014], "nice": false, "zero": false}, "axis": null}, "text": {"field": "label"}}}
     ],
     "resolve": {"axis": {"x": "independent", "y": "independent"}}
    },
    {
     "width": 429, "height": 73,
     "layer": [
      {"data": {"name": "energy"}, "mark": {"type": "line", "color": "#ff5555", "strokeWidth": 1.3, "clip": true},
       "encoding": {"x": {"field": "t", "type": "quantitative", "scale": {"domain": [47, 52], "nice": false, "zero": false},
          "axis": {"orient": "bottom", "values": [47,47.1,47.2,47.3,47.4,47.5,47.6,47.7,47.8,47.9,48,48.1,48.2,48.3,48.4,48.5,48.6,48.7,48.8,48.9,49,49.1,49.2,49.3,49.4,49.5,49.6,49.7,49.8,49.9,50,50.1,50.2,50.3,50.4,50.5,50.6,50.7,50.8,50.9,51,51.1,51.2,51.3,51.4,51.5,51.6,51.7,51.8,51.9,52], "labels": false, "title": null, "tickColor": "#222", "tickSize": {"condition": {"test": "datum.value % 1 === 0", "value": -6}, "value": -3}}},
        "y": {"field": "v", "type": "quantitative", "scale": {"domain": [0.42, 6.26], "nice": false, "zero": false},
          "axis": {"orient": "left", "values": [0.5,1,1.5,2,2.5,3,3.5,4,4.5,5,5.5,6], "labels": false, "tickColor": "#222", "tickSize": {"condition": {"test": "datum.value === 1 || datum.value === 3 || datum.value === 5", "value": -6}, "value": -3}, "title": "10⁶ J", "titleFont": "Liberation Sans", "titleFontSize": 14, "titleFontWeight": "normal", "titleColor": "#222", "titlePadding": 16}}}},
      {"data": {"values": [{"label": "stored energy"}]}, "mark": {"type": "text", "color": "#ff1a1a", "fontSize": 17, "align": "right", "baseline": "middle"},
       "encoding": {"x": {"datum": 51.83, "type": "quantitative", "scale": {"domain": [47, 52], "nice": false, "zero": false},
          "axis": {"orient": "top", "values": [47,47.1,47.2,47.3,47.4,47.5,47.6,47.7,47.8,47.9,48,48.1,48.2,48.3,48.4,48.5,48.6,48.7,48.8,48.9,49,49.1,49.2,49.3,49.4,49.5,49.6,49.7,49.8,49.9,50,50.1,50.2,50.3,50.4,50.5,50.6,50.7,50.8,50.9,51,51.1,51.2,51.3,51.4,51.5,51.6,51.7,51.8,51.9,52], "labels": false, "title": null, "tickColor": "#222", "tickSize": {"condition": {"test": "datum.value % 1 === 0", "value": -6}, "value": -3}}},
        "y": {"datum": 4.92, "type": "quantitative", "scale": {"domain": [0.42, 6.26], "nice": false, "zero": false},
          "axis": {"orient": "right", "values": [0.5,1,1.5,2,2.5,3,3.5,4,4.5,5,5.5,6], "labelExpr": "datum.value === 1 ? '1.0' : datum.value === 3 ? '3.0' : datum.value === 5 ? '5.0' : ''", "labelFontSize": 15, "labelColor": "#222", "labelPadding": 3, "tickColor": "#222", "tickSize": {"condition": {"test": "datum.value === 1 || datum.value === 3 || datum.value === 5", "value": 5}, "value": 3}, "title": null}},
        "text": {"field": "label"}}}
     ],
     "resolve": {"axis": {"x": "independent", "y": "independent"}}
    },
    {
     "width": 429, "height": 70,
     "layer": [
      {"data": {"name": "neut"}, "mark": {"type": "line", "color": "#ff5555", "strokeWidth": 1.3, "clip": true},
       "encoding": {"x": {"field": "t", "type": "quantitative", "scale": {"domain": [47, 52], "nice": false, "zero": false},
          "axis": {"orient": "bottom", "values": [47,47.1,47.2,47.3,47.4,47.5,47.6,47.7,47.8,47.9,48,48.1,48.2,48.3,48.4,48.5,48.6,48.7,48.8,48.9,49,49.1,49.2,49.3,49.4,49.5,49.6,49.7,49.8,49.9,50,50.1,50.2,50.3,50.4,50.5,50.6,50.7,50.8,50.9,51,51.1,51.2,51.3,51.4,51.5,51.6,51.7,51.8,51.9,52], "labels": false, "title": null, "tickColor": "#222", "tickSize": {"condition": {"test": "datum.value % 1 === 0", "value": -6}, "value": -3}}},
        "y": {"field": "v", "type": "quantitative", "scale": {"domain": [-0.24, 7.05], "nice": false, "zero": false},
          "axis": {"orient": "left", "values": [0,0.5,1,1.5,2,2.5,3,3.5,4,4.5,5,5.5,6,6.5,7], "labels": false, "tickColor": "#222", "tickSize": {"condition": {"test": "datum.value % 2 === 0", "value": -6}, "value": -3}, "title": "10¹⁷ n/s", "titleFont": "Liberation Sans", "titleFontSize": 14, "titleFontWeight": "normal", "titleColor": "#222", "titlePadding": 16}}}},
      {"data": {"values": [{"label": "total neutrons"}]}, "mark": {"type": "text", "color": "#ff1a1a", "fontSize": 17, "align": "right", "baseline": "middle"},
       "encoding": {"x": {"datum": 51.83, "type": "quantitative", "scale": {"domain": [47, 52], "nice": false, "zero": false},
          "axis": {"orient": "top", "values": [47,47.1,47.2,47.3,47.4,47.5,47.6,47.7,47.8,47.9,48,48.1,48.2,48.3,48.4,48.5,48.6,48.7,48.8,48.9,49,49.1,49.2,49.3,49.4,49.5,49.6,49.7,49.8,49.9,50,50.1,50.2,50.3,50.4,50.5,50.6,50.7,50.8,50.9,51,51.1,51.2,51.3,51.4,51.5,51.6,51.7,51.8,51.9,52], "labels": false, "title": null, "tickColor": "#222", "tickSize": {"condition": {"test": "datum.value % 1 === 0", "value": -6}, "value": -3}}},
        "y": {"datum": 5.28, "type": "quantitative", "scale": {"domain": [-0.24, 7.05], "nice": false, "zero": false},
          "axis": {"orient": "right", "values": [0,0.5,1,1.5,2,2.5,3,3.5,4,4.5,5,5.5,6,6.5,7], "labelExpr": "datum.value === 0 ? '0' : datum.value === 4 ? '4.0' : ''", "labelFontSize": 15, "labelColor": "#222", "labelPadding": 3, "tickColor": "#222", "tickSize": {"condition": {"test": "datum.value % 2 === 0", "value": 5}, "value": 3}, "title": null}},
        "text": {"field": "label"}}}
     ],
     "resolve": {"axis": {"x": "independent", "y": "independent"}}
    },
    {
     "width": 429, "height": 57,
     "layer": [
      {"data": {"name": "te"}, "mark": {"type": "line", "color": "#ff5555", "strokeWidth": 1.3, "clip": true},
       "encoding": {"x": {"field": "t", "type": "quantitative", "scale": {"domain": [47, 52], "nice": false, "zero": false},
          "axis": {"orient": "bottom", "values": [47,47.1,47.2,47.3,47.4,47.5,47.6,47.7,47.8,47.9,48,48.1,48.2,48.3,48.4,48.5,48.6,48.7,48.8,48.9,49,49.1,49.2,49.3,49.4,49.5,49.6,49.7,49.8,49.9,50,50.1,50.2,50.3,50.4,50.5,50.6,50.7,50.8,50.9,51,51.1,51.2,51.3,51.4,51.5,51.6,51.7,51.8,51.9,52], "labelExpr": "datum.value % 1 === 0 ? '' + datum.value : ''", "labelFontSize": 15, "labelColor": "#222", "labelPadding": 12, "title": null, "tickColor": "#222", "tickSize": {"condition": {"test": "datum.value % 1 === 0", "value": -6}, "value": -3}}},
        "y": {"field": "v", "type": "quantitative", "scale": {"domain": [1.4, 7.1], "nice": false, "zero": false},
          "axis": {"orient": "left", "values": [1.5,1.6,1.7,1.8,1.9,2,2.1,2.2,2.3,2.4,2.5,2.6,2.7,2.8,2.9,3,3.1,3.2,3.3,3.4,3.5,3.6,3.7,3.8,3.9,4,4.1,4.2,4.3,4.4,4.5,4.6,4.7,4.8,4.9,5,5.1,5.2,5.3,5.4,5.5,5.6,5.7,5.8,5.9,6,6.1,6.2,6.3,6.4,6.5,6.6,6.7,6.8,6.9,7], "labels": false, "tickColor": "#333", "tickSize": {"condition": {"test": "datum.value % 1 === 0", "value": -8}, "value": -5}, "title": "10³ EV", "titleFont": "Liberation Sans", "titleFontSize": 14, "titleFontWeight": "normal", "titleColor": "#222", "titlePadding": 16}}}},
      {"data": {"values": [{"label": "core Tₑ"}]}, "mark": {"type": "text", "color": "#ff1a1a", "fontSize": 17, "align": "right", "baseline": "middle"},
       "encoding": {"x": {"datum": 51.83, "type": "quantitative", "scale": {"domain": [47, 52], "nice": false, "zero": false},
          "axis": {"orient": "top", "values": [47,47.1,47.2,47.3,47.4,47.5,47.6,47.7,47.8,47.9,48,48.1,48.2,48.3,48.4,48.5,48.6,48.7,48.8,48.9,49,49.1,49.2,49.3,49.4,49.5,49.6,49.7,49.8,49.9,50,50.1,50.2,50.3,50.4,50.5,50.6,50.7,50.8,50.9,51,51.1,51.2,51.3,51.4,51.5,51.6,51.7,51.8,51.9,52], "labels": false, "title": null, "tickColor": "#222", "tickSize": {"condition": {"test": "datum.value % 1 === 0", "value": -6}, "value": -3}}},
        "y": {"datum": 5.33, "type": "quantitative", "scale": {"domain": [1.4, 7.1], "nice": false, "zero": false},
          "axis": {"orient": "right", "values": [1.5,2,2.5,3,3.5,4,4.5,5,5.5,6,6.5,7], "labelExpr": "datum.value === 2 ? '2.0' : datum.value === 4 ? '4.0' : ''", "labelFontSize": 15, "labelColor": "#222", "labelPadding": 3, "tickColor": "#222", "tickSize": {"condition": {"test": "datum.value % 1 === 0", "value": 5}, "value": 3}, "title": null}},
        "text": {"field": "label"}}}
     ],
     "resolve": {"axis": {"x": "independent", "y": "independent"}}
    }
   ]
  },
  {
   "title": {"text": "B", "font": "Open Sans", "fontSize": 22, "fontWeight": "bold", "color": "#111", "anchor": "start", "frame": "bounds", "offset": 7},
   "spacing": 0,
   "bounds": "flush",
   "vconcat": [
    {
     "width": 298, "height": 83,
     "view": {"stroke": null},
     "layer": [
      {"data": {"name": "brackets"}, "mark": {"type": "line", "color": "#222", "strokeWidth": 1.5},
       "encoding": {"x": {"field": "t", "type": "quantitative", "scale": {"domain": [47.5, 50], "nice": false, "zero": false}, "axis": null},
        "y": {"field": "y", "type": "quantitative", "scale": {"domain": [0, 1], "nice": false, "zero": false}, "axis": null},
        "detail": {"field": "g"}}},
      {"data": {"values": [{"label": "HF", "c": 48.026}, {"label": "LF", "c": 49.424}]}, "mark": {"type": "text", "color": "#111", "font": "Open Sans", "fontWeight": "bold", "fontSize": 15, "baseline": "middle", "align": "center"},
       "encoding": {"x": {"field": "c", "type": "quantitative", "scale": {"domain": [47.5, 50], "nice": false, "zero": false}, "axis": null},
        "y": {"datum": 0.554, "type": "quantitative", "scale": {"domain": [0, 1], "nice": false, "zero": false}, "axis": null},
        "text": {"field": "label"}}}
     ]
    },
    {
     "width": 298, "height": 238,
     "view": {"stroke": "#9a9a9a", "strokeWidth": 1},
     "layer": [
      {"data": {"name": "bband"}, "mark": {"type": "area", "color": "#ff1a1a", "opacity": 0.95, "clip": true},
       "encoding": {"x": {"field": "t", "type": "quantitative", "scale": {"domain": [47.5, 50], "nice": false, "zero": false},
          "axis": {"orient": "bottom", "values": [47.5,48,48.5,49,49.5,50], "format": ".1f", "labelFont": "Open Sans", "labelFontSize": 11, "labelColor": "#333", "labelPadding": 6, "tickColor": "#999", "tickSize": -4, "title": null}},
        "y": {"field": "lo", "type": "quantitative", "scale": {"domain": [-1, 1], "nice": false, "zero": false},
          "axis": {"orient": "left", "values": [-1,-0.8,-0.6,-0.4,-0.2,0,0.2,0.4,0.6,0.8,1], "labelExpr": "datum.value === 0 ? '0' : datum.value === 0.8 ? '0.8' : datum.value === 0.4 ? '0.4' : datum.value === -0.4 ? '-0.4' : datum.value === -0.8 ? '-0.8' : ''", "labelFont": "Open Sans", "labelFontSize": 11, "labelColor": "#333", "labelPadding": 12, "tickColor": "#999", "tickSize": -4, "title": null}},
        "y2": {"field": "hi"}}},
      {"data": {"name": "bred"}, "mark": {"type": "rule", "color": "#ff1a1a", "strokeWidth": 1.2, "opacity": 0.75, "clip": true},
       "encoding": {"x": {"field": "t", "type": "quantitative", "scale": {"domain": [47.5, 50], "nice": false, "zero": false},
          "axis": {"orient": "top", "values": [47.5,48,48.5,49,49.5,50], "labels": false, "tickColor": "#999", "tickSize": -4, "title": null}},
        "y": {"field": "p", "type": "quantitative", "scale": {"domain": [-1, 1], "nice": false, "zero": false},
          "axis": {"orient": "right", "values": [-1,-0.8,-0.6,-0.4,-0.2,0,0.2,0.4,0.6,0.8,1], "labels": false, "tickColor": "#999", "tickSize": -4, "title": null}},
        "y2": {"field": "b"}}},
      {"data": {"name": "bbase"}, "mark": {"type": "line", "color": "#2a2ae6", "strokeWidth": 2.5, "clip": true},
       "encoding": {"x": {"field": "t", "type": "quantitative", "scale": {"domain": [47.5, 50], "nice": false, "zero": false}, "axis": null},
        "y": {"field": "v", "type": "quantitative", "scale": {"domain": [-1, 1], "nice": false, "zero": false}, "axis": null}}},
      {"data": {"name": "bblue"}, "mark": {"type": "rule", "color": "#2a2ae6", "strokeWidth": 1.3, "opacity": 0.85, "clip": true},
       "encoding": {"x": {"field": "t", "type": "quantitative", "scale": {"domain": [47.5, 50], "nice": false, "zero": false}, "axis": null},
        "y": {"field": "p", "type": "quantitative", "scale": {"domain": [-1, 1], "nice": false, "zero": false}, "axis": null},
        "y2": {"datum": -0.985}}}
     ],
     "resolve": {"axis": {"x": "independent", "y": "independent"}}
    }
   ]
  }
 ]
}
